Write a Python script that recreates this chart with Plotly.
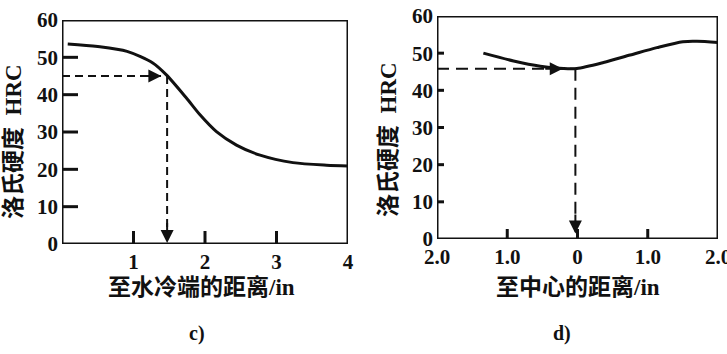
import plotly.graph_objects as go

# ---- data ----
c_dist = [0.08, 0.5, 0.91, 1.27, 1.46, 1.74, 1.93, 2.16, 2.44, 2.77, 3.23, 3.7, 4.0]
c_hrc = [53.6, 52.9, 51.6, 48.5, 45.3, 39.1, 34.6, 30.1, 26.5, 23.8, 21.8, 21.1, 20.9]
c_mark_x, c_mark_y = 1.47, 45.0

d_dist = [-1.34, -0.91, -0.53, -0.2, -0.01, 0.37, 0.75, 1.13, 1.5, 1.7, 2.0]
d_hrc = [50.0, 47.9, 46.5, 45.9, 45.9, 47.5, 49.5, 51.5, 53.1, 53.2, 52.9]
d_mark_x, d_mark_y = -0.03, 45.8

y_ticks = [0, 10, 20, 30, 40, 50, 60]
c_xticks = [1, 2, 3, 4]
c_xtext = ["1", "2", "3", "4"]
d_xticks = [-2, -1, 0, 1, 2]
d_xtext = ["2.0", "1.0", "0", "1.0", "2.0"]
c_xrange = [0, 4]
d_xrange = [-2, 2]
y_range = [0, 60]

c_xtitle = "至水冷端的距离/in"
d_xtitle = "至中心的距离/in"
ytitle = "洛氏硬度  HRC"

W, H = 727, 354
INK = "#111111"
FONT = "Liberation Serif, Noto Sans CJK SC, serif"

C_BOX = (62, 348, 20, 244)   # left, right, top, bottom in px
D_BOX = (437, 718, 16, 239)


def px_x(p):
    return p / W


def px_y(p):
    return 1 - p / H


fig = go.Figure()

# frames and inward ticks as line traces on each panel's own axes
panels = [("x", "y", C_BOX, c_xrange, c_xticks[:-1], 16, 13),
          ("x2", "y2", D_BOX, d_xrange, d_xticks[1:-1], 7, 10)]
for xa, ya, box, xr, xt, ylen, xlen in panels:
    x_per_px = (xr[1] - xr[0]) / (box[1] - box[0])
    y_per_px = (y_range[1] - y_range[0]) / (box[3] - box[2])
    fx = [xr[0], xr[1], xr[1], xr[0], xr[0]]
    fy = [y_range[0], y_range[0], y_range[1], y_range[1], y_range[0]]
    tx, ty = [], []
    for v in y_ticks[1:-1]:
        tx += [xr[0], xr[0] + ylen * x_per_px, None]
        ty += [v, v, None]
    for v in xt:
        tx += [v, v, None]
        ty += [y_range[0], y_range[0] + xlen * y_per_px, None]
    fig.add_trace(go.Scatter(x=fx + [None] + tx, y=fy + [None] + ty, mode="lines",
                             line=dict(color=INK, width=3), xaxis=xa, yaxis=ya,
                             hoverinfo="skip", cliponaxis=False))

# curves
fig.add_trace(go.Scatter(x=c_dist, y=c_hrc, mode="lines", line=dict(color=INK, width=3, shape="spline", smoothing=0.8),
                         xaxis="x", yaxis="y", hoverinfo="skip"))
fig.add_trace(go.Scatter(x=d_dist, y=d_hrc, mode="lines", line=dict(color=INK, width=3, shape="spline", smoothing=0.8),
                         xaxis="x2", yaxis="y2", hoverinfo="skip"))

# guide lines (c)
fig.add_trace(go.Scatter(x=[0, c_mark_x], y=[c_mark_y, c_mark_y], mode="lines",
                         line=dict(color=INK, width=2, dash="8px,5px"), xaxis="x", yaxis="y", hoverinfo="skip"))
fig.add_trace(go.Scatter(x=[c_mark_x, c_mark_x], y=[c_mark_y, 0], mode="lines",
                         line=dict(color=INK, width=2, dash="8px,5px"), xaxis="x", yaxis="y", hoverinfo="skip"))
# guide lines (d)
fig.add_trace(go.Scatter(x=[-2, d_mark_x], y=[d_mark_y, d_mark_y], mode="lines",
                         line=dict(color=INK, width=2, dash="12px,7px"), xaxis="x2", yaxis="y2", hoverinfo="skip"))
fig.add_trace(go.Scatter(x=[d_mark_x, d_mark_x], y=[d_mark_y, 2], mode="lines",
                         line=dict(color=INK, width=2, dash="12px,7px"), xaxis="x2", yaxis="y2", hoverinfo="skip"))

annotations = []
# arrowheads
annotations.append(dict(x=c_mark_x - 0.08, y=c_mark_y, ax=c_mark_x - 0.35, ay=c_mark_y, xref="x", yref="y",
                        axref="x", ayref="y", text="", showarrow=True, arrowhead=2, arrowsize=1.3,
                        arrowwidth=2, arrowcolor=INK, standoff=0))
annotations.append(dict(x=c_mark_x, y=0.3, ax=c_mark_x, ay=6, xref="x", yref="y",
                        axref="x", ayref="y", text="", showarrow=True, arrowhead=2, arrowsize=1.3,
                        arrowwidth=2, arrowcolor=INK, standoff=0))
annotations.append(dict(x=d_mark_x - 0.18, y=d_mark_y, ax=d_mark_x - 0.45, ay=d_mark_y, xref="x2", yref="y2",
                        axref="x2", ayref="y2", text="", showarrow=True, arrowhead=2, arrowsize=1.3,
                        arrowwidth=2, arrowcolor=INK, standoff=0))
annotations.append(dict(x=d_mark_x, y=1.5, ax=d_mark_x, ay=7, xref="x2", yref="y2",
                        axref="x2", ayref="y2", text="", showarrow=True, arrowhead=2, arrowsize=1.3,
                        arrowwidth=2, arrowcolor=INK, standoff=0))

title_font = dict(family=FONT, size=23, color=INK, weight="bold")
# x titles
annotations.append(dict(x=px_x(201), y=px_y(287), xref="paper", yref="paper", text=c_xtitle,
                        showarrow=False, font=title_font, xanchor="center", yanchor="middle"))
annotations.append(dict(x=px_x(578), y=px_y(287), xref="paper", yref="paper", text=d_xtitle,
                        showarrow=False, font=title_font, xanchor="center", yanchor="middle"))
# y titles
annotations.append(dict(x=px_x(13), y=px_y(142), xref="paper", yref="paper", text=ytitle,
                        showarrow=False, font=title_font, textangle=-90, xanchor="center", yanchor="middle"))
annotations.append(dict(x=px_x(388), y=px_y(140), xref="paper", yref="paper", text=ytitle,
                        showarrow=False, font=title_font, textangle=-90, xanchor="center", yanchor="middle"))
# panel labels
annotations.append(dict(x=px_x(197), y=px_y(333), xref="paper", yref="paper", text="c)",
                        showarrow=False, xanchor="center", yanchor="middle",
                        font=dict(family=FONT, size=20, color=INK, weight="bold")))
annotations.append(dict(x=px_x(562), y=px_y(333), xref="paper", yref="paper", text="d)",
                        showarrow=False, xanchor="center", yanchor="middle",
                        font=dict(family=FONT, size=20, color=INK, weight="bold")))

tick_font = dict(family=FONT, size=21, color=INK, weight="bold")


def axis(**kw):
    base = dict(showgrid=False, zeroline=False, showline=False, ticks="", tickfont=tick_font,
                fixedrange=True, automargin=False, ticklabeloverflow="allow", ticklabelstandoff=3)
    base.update(kw)
    return base


fig.update_layout(
    width=W, height=H, margin=dict(l=0, r=0, t=0, b=0, pad=0, autoexpand=False),
    paper_bgcolor="white", plot_bgcolor="white", showlegend=False,
    xaxis=axis(domain=[px_x(C_BOX[0]), px_x(C_BOX[1])], range=c_xrange, tickvals=c_xticks, ticktext=c_xtext,
               anchor="y"),
    yaxis=axis(domain=[px_y(C_BOX[3]), px_y(C_BOX[2])], range=y_range, tickvals=y_ticks, anchor="x"),
    xaxis2=axis(domain=[px_x(D_BOX[0]), px_x(D_BOX[1])], range=d_xrange, tickvals=d_xticks, ticktext=d_xtext,
                anchor="y2"),
    yaxis2=axis(domain=[px_y(D_BOX[3]), px_y(D_BOX[2])], range=y_range, tickvals=y_ticks, anchor="x2"),
    annotations=annotations,
)

fig.write_html("out.html")
